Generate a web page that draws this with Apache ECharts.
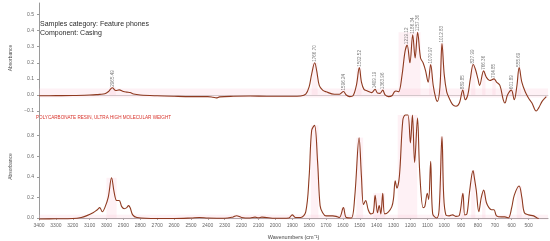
<!DOCTYPE html>
<html>
<head>
<meta charset="utf-8">
<script src="https://cdn.jsdelivr.net/npm/echarts@6/dist/echarts.min.js"></script>
<style>
  html, body { margin: 0; padding: 0; background: #fff; }
  #chart { width: 550px; height: 241px; }
</style>
</head>
<body>
<div id="chart"></div>
<script>
// sample spectrum (top panel)
const sampleWn = [3400, 3300, 3200, 3100, 3060, 3040, 3010, 2990, 2965.49, 2945, 2925, 2900, 2880, 2860, 2840, 2800,
  2700, 2600, 2500, 2400, 2370, 2350, 2330, 2250, 2150, 2050, 1950, 1900, 1850, 1820, 1800, 1785, 1766.7, 1755,
  1740, 1720, 1700, 1650, 1620, 1596.24, 1580, 1560, 1540, 1520, 1502.52, 1490, 1475, 1455, 1430, 1409.19, 1395,
  1380, 1363.96, 1350, 1330, 1310, 1295, 1285, 1270, 1250, 1232, 1219.12, 1203, 1186.34, 1172, 1157.36, 1140, 1125,
  1110, 1095, 1079.97, 1065, 1050, 1040, 1025, 1012.83, 1000, 985, 970, 950, 930, 910, 889.85, 875, 860, 845,
  827.99, 815, 800, 790, 766.36, 750, 730, 704.85, 690, 670, 650, 640, 625, 601.89, 585, 570, 555.69, 540, 520,
  500, 480, 455, 440, 420, 395];
const sampleAbs = [-0.005, -0.004, -0.003, 0.0, 0.002, 0.004, 0.008, 0.02, 0.045, 0.028, 0.032, 0.022, 0.018, 0.015, 0.006, 0.0,
  -0.005, -0.008, -0.01, -0.01, -0.014, -0.018, -0.012, -0.008, -0.006, -0.008, -0.008, -0.008, -0.006, 0.005, 0.05, 0.13, 0.2, 0.15,
  0.06, 0.03, 0.02, 0.005, 0.005, 0.022, 0.0, -0.01, -0.005, 0.06, 0.17, 0.08, 0.035, 0.025, 0.015, 0.035, 0.012,
  0.01, 0.03, 0.0, -0.01, -0.005, 0.02, 0.025, 0.02, 0.12, 0.27, 0.31, 0.2, 0.375, 0.23, 0.39, 0.23, 0.2,
  0.15, 0.08, 0.19, 0.06, -0.02, -0.04, 0.05, 0.32, 0.13, 0.02, -0.02, -0.06, -0.07, -0.05, 0.03, -0.03, 0.0, 0.1,
  0.19, 0.16, 0.1, 0.06, 0.15, 0.11, 0.09, 0.1, 0.08, 0.06, -0.03, -0.05, 0.0, 0.03, -0.03, 0.05, 0.17, 0.08, 0.02,
  -0.02, -0.05, -0.1, -0.08, -0.04, -0.01];

// library reference spectrum (bottom panel)
const refWn = [3400, 3300, 3200, 3150, 3120, 3080, 3055, 3040, 3025, 3010, 2990, 2970, 2955, 2940, 2925, 2910, 2895,
  2880, 2870, 2860, 2845, 2820, 2700, 2600, 2500, 2450, 2400, 2300, 2250, 2230, 2200, 2150, 2120, 2100, 2080,
  2000, 1920, 1900, 1880, 1850, 1820, 1800, 1785, 1768, 1750, 1735, 1720, 1700, 1660, 1640, 1620, 1597, 1580,
  1550, 1530, 1504, 1490, 1478, 1465, 1450, 1435, 1420, 1409, 1395, 1385, 1375, 1364, 1352, 1330, 1310, 1300,
  1290, 1280, 1265, 1245, 1230, 1215, 1200, 1188, 1175, 1158, 1145, 1125, 1115, 1100, 1092, 1080, 1068, 1045,
  1030, 1013, 1003, 990, 970, 950, 930, 910, 889, 878, 865, 850, 829, 822, 810, 795, 780, 766, 750, 735, 720,
  705, 690, 660, 640, 620, 600, 585, 556, 540, 525, 500, 470, 450, 440];
const refAbs = [-0.01, -0.008, -0.005, 0.005, 0.02, 0.05, 0.08, 0.1, 0.06, 0.1, 0.2, 0.39, 0.25, 0.17, 0.17, 0.11, 0.09,
  0.1, 0.12, 0.1, 0.03, 0.005, -0.005, -0.005, 0.0, 0.005, 0.0, -0.003, 0.01, 0.022, 0.005, 0.0, 0.008, 0.002, 0.008,
  -0.003, 0.0, 0.03, 0.005, 0.005, 0.06, 0.4, 0.85, 0.9, 0.55, 0.12, 0.05, 0.02, 0.02, 0.015, 0.005, 0.1, 0.005,
  0.0, 0.2, 0.78, 0.4, 0.13, 0.17, 0.08, 0.04, 0.05, 0.22, 0.05, 0.12, 0.04, 0.24, 0.04, 0.06, 0.11, 0.19,
  0.36, 0.29, 0.41, 0.95, 1.0, 1.0, 0.73, 1.0, 0.54, 0.97, 0.45, 0.1, 0.11, 0.24, 0.18, 0.55, 0.04, 0.0,
  0.08, 0.79, 0.22, 0.03, 0.02, 0.03, 0.015, 0.025, 0.24, 0.03, 0.04, 0.25, 0.46, 0.4, 0.27, 0.06, 0.2, 0.27, 0.15, 0.1, 0.08,
  0.08, 0.02, 0.01, 0.01, 0.0, 0.1, 0.22, 0.31, 0.2, 0.05, 0.03, 0.02, 0.0, -0.005];

// peak picks shown on the sample spectrum
const peakWn = [2965.49, 1766.70, 1596.24, 1502.52, 1409.19, 1363.96, 1219.12, 1186.34, 1157.36, 1079.97, 1012.83,
  889.85, 827.99, 766.36, 704.85, 601.89, 555.69];
const peakAbs = [0.045, 0.2, 0.022, 0.17, 0.035, 0.03, 0.31, 0.375, 0.39, 0.19, 0.32, 0.03, 0.19, 0.15, 0.1, 0.03, 0.17];

// matched regions (from, to, top) shaded pink
const sampleBands = [[2985, 2945, 0.05], [1785, 1750, 0.2], [1520, 1490, 0.17], [1270, 1140, 0.39], [1090, 1070, 0.19],
  [1025, 1000, 0.32], [895, 880, 0.03], [840, 815, 0.19], [775, 755, 0.15], [715, 695, 0.1], [610, 590, 0.03], [565, 545, 0.17]];
const refBands = [[3000, 2940, 0.39], [1790, 1745, 0.9], [1610, 1585, 0.1], [1520, 1480, 0.78], [1420, 1350, 0.24],
  [1275, 1160, 1.0], [1025, 1005, 0.79], [898, 880, 0.24], [840, 815, 0.46], [775, 755, 0.27], [570, 540, 0.31]];

const xTicks = [];
for (let t = 3400; t >= 500; t -= 100) xTicks.push(t);
const topTicks = [-0.1, 0, 0.1, 0.2, 0.3, 0.4, 0.5];
const bottomTicks = [0, 0.2, 0.4, 0.6, 0.8];

const lineColor = '#8f3a20';
const axisGray = '#9a9a9a';
const labelGray = '#666';

function pairs (xs, ys) {
  return xs.map((x, i) => [x, ys[i]]);
}
function bandAreas (bands) {
  return bands.map(b => [{ coord: [b[0], b[2]] }, { coord: [b[1], 0] }]);
}

const chart = echarts.init(document.getElementById('chart'), null, { renderer: 'canvas' });

const xBase = {
  type: 'value',
  inverse: true,
  min: 385,
  max: 3400,
  splitLine: { show: false }
};

const option = {
  animation: false,
  textStyle: { fontFamily: 'Liberation Sans, Arial, sans-serif' },
  grid: [
    { left: 35, right: 2, top: 3, height: 110 },
    { left: 35, right: 2, top: 113, height: 108 }
  ],
  xAxis: [
    Object.assign({}, xBase, {
      gridIndex: 0,
      axisLine: { lineStyle: { color: '#c8c8c8', width: 1 } },
      axisTick: { show: false },
      axisLabel: { show: false }
    }),
    Object.assign({}, xBase, {
      gridIndex: 1,
      name: 'Wavenumbers (cm\u207B\u00B9)',
      nameLocation: 'middle',
      nameGap: 14,
      nameTextStyle: { fontSize: 5.5, color: '#444' },
      axisLine: { lineStyle: { color: axisGray, width: 1 } },
      axisTick: { customValues: xTicks, length: 2, lineStyle: { color: axisGray } },
      axisLabel: { customValues: xTicks, fontSize: 5, color: labelGray, margin: 3,
        formatter: v => String(v) }
    })
  ],
  yAxis: [
    {
      gridIndex: 0,
      type: 'value',
      min: -0.112,
      max: 0.572,
      name: 'Absorbance',
      nameLocation: 'middle',
      nameGap: 26,
      nameTextStyle: { fontSize: 5, color: '#555' },
      splitLine: { show: false },
      axisLine: { show: true, lineStyle: { color: axisGray } },
      axisTick: { show: true, customValues: topTicks, length: 2, lineStyle: { color: axisGray } },
      axisLabel: { customValues: topTicks, fontSize: 5, color: labelGray, margin: 5,
        formatter: v => (v < 0 ? '\u22120.1' : v.toFixed(1)) }
    },
    {
      gridIndex: 1,
      type: 'value',
      min: -0.02,
      max: 1.02,
      name: 'Absorbance',
      nameLocation: 'middle',
      nameGap: 26,
      nameTextStyle: { fontSize: 5, color: '#555' },
      splitLine: { show: false },
      axisLine: { show: true, lineStyle: { color: axisGray } },
      axisTick: { show: true, customValues: bottomTicks, length: 2, lineStyle: { color: axisGray } },
      axisLabel: { customValues: bottomTicks, fontSize: 5, color: labelGray, margin: 5,
        formatter: v => v.toFixed(1) }
    }
  ],
  graphic: [
    {
      type: 'text',
      left: 40,
      top: 19,
      style: {
        text: 'Samples category: Feature phones\nComponent: Casing',
        fontSize: 7,
        lineHeight: 9.5,
        fill: '#2b2b2b',
        fontFamily: 'Liberation Sans, Arial, sans-serif'
      }
    },
    {
      type: 'text',
      left: 36,
      top: 115.5,
      style: {
        text: 'POLYCARBONATE RESIN, ULTRA HIGH MOLECULAR WEIGHT',
        fontSize: 4.6,
        fill: '#d8342c',
        fontFamily: 'Liberation Sans, Arial, sans-serif'
      }
    }
  ],
  series: [
    {
      name: 'sample',
      type: 'line',
      xAxisIndex: 0,
      yAxisIndex: 0,
      data: pairs(sampleWn, sampleAbs),
      smooth: 0.35,
      symbol: 'none',
      lineStyle: { color: lineColor, width: 1.1 },
      markArea: {
        silent: true,
        itemStyle: { color: 'rgba(250, 190, 210, 0.22)' },
        data: bandAreas(sampleBands).concat([[{ coord: [3400, 0.04] }, { coord: [385, -0.015] }]])
      }
    },
    {
      name: 'reference',
      type: 'line',
      xAxisIndex: 1,
      yAxisIndex: 1,
      data: pairs(refWn, refAbs),
      smooth: 0.35,
      symbol: 'none',
      lineStyle: { color: lineColor, width: 1.1 },
      markArea: {
        silent: true,
        itemStyle: { color: 'rgba(250, 190, 210, 0.22)' },
        data: bandAreas(refBands).concat([[{ coord: [3400, 0.03] }, { coord: [385, -0.015] }]])
      }
    },
    {
      name: 'peaks',
      type: 'scatter',
      xAxisIndex: 0,
      yAxisIndex: 0,
      data: pairs(peakWn, peakAbs),
      symbolSize: 0,
      silent: true,
      label: {
        show: true,
        position: 'top',
        distance: 1,
        rotate: 90,
        align: 'left',
        verticalAlign: 'middle',
        fontSize: 4.6,
        color: '#555',
        formatter: p => p.value[0].toFixed(2)
      }
    }
  ]
};

chart.setOption(option);
</script>
</body>
</html>
